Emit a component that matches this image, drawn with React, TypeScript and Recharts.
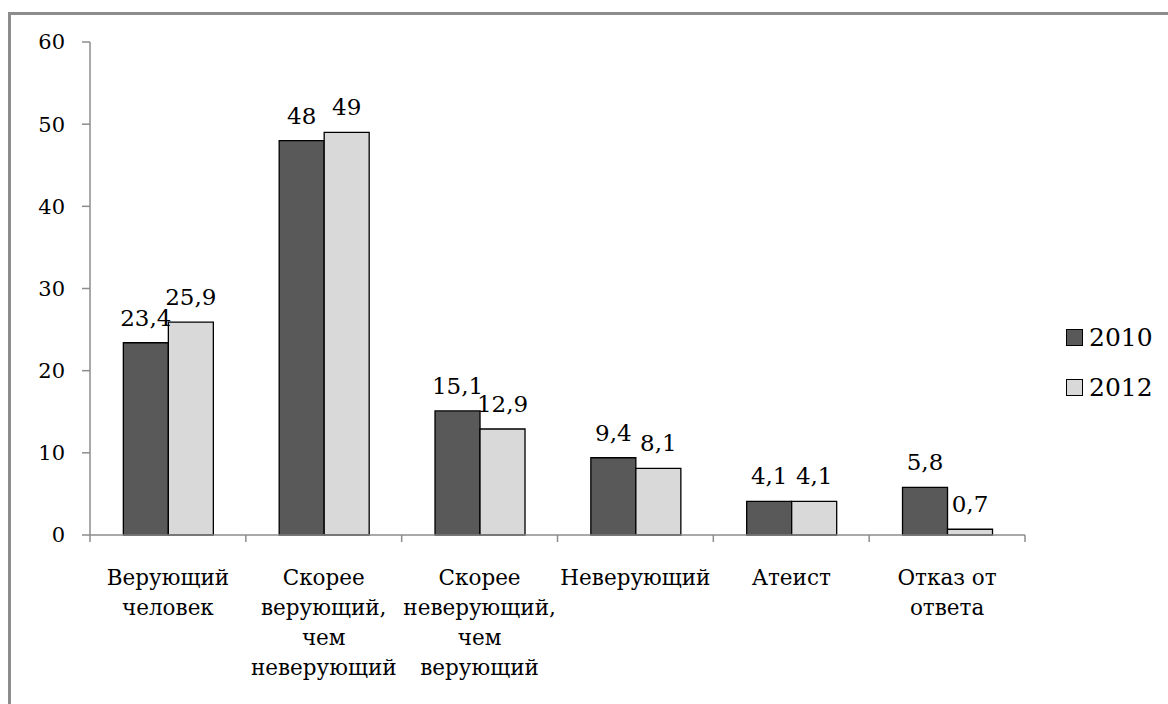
import { Bar, BarChart, LabelList, XAxis, YAxis } from 'recharts'

// Categories (line breaks as in the original axis labels)
const categories = [
  'Верующий\nчеловек',
  'Скорее\nверующий,\nчем\nневерующий',
  'Скорее\nневерующий,\nчем\nверующий',
  'Неверующий',
  'Атеист',
  'Отказ от\nответа',
]
const values2010 = [23.4, 48, 15.1, 9.4, 4.1, 5.8]
const values2012 = [25.9, 49, 12.9, 8.1, 4.1, 0.7]
const yTicks = [0, 10, 20, 30, 40, 50, 60]
const seriesNames = ['2010', '2012']
const seriesColors = ['#595959', '#d9d9d9']

const data = categories.map((name, i) => ({
  name,
  y2010: values2010[i],
  y2012: values2012[i],
}))

const FONT = '"DejaVu Serif", "Liberation Serif", serif'
const AXIS_GRAY = '#8c8c8c'
const BAND = (1025 - 90) / categories.length

const formatValue = (v: any) => String(v).replace('.', ',')

// Category label with tick marks at the band edges
const CategoryTick = (props: any) => {
  const { x, y, payload, index } = props
  const half = payload?.offset || BAND / 2
  const lines = String(payload.value).split('\n')
  return (
    <g>
      <line x1={x - half} y1={y} x2={x - half} y2={y + 7} stroke={AXIS_GRAY} strokeWidth={1.5} />
      {index === categories.length - 1 && (
        <line x1={x + half} y1={y} x2={x + half} y2={y + 7} stroke={AXIS_GRAY} strokeWidth={1.5} />
      )}
      {lines.map((line: string, i: number) => (
        <text key={i} x={x} y={y + 50 + i * 30} textAnchor="middle" fontSize={21.5} fontFamily={FONT} fill="#000">
          {line}
        </text>
      ))}
    </g>
  )
}

const LegendBox = () => (
  <div style={{ position: 'absolute', left: 1066, top: 312, fontFamily: FONT, fontSize: 25, color: '#000' }}>
    {seriesNames.map((name, i) => (
      <div key={name} style={{ display: 'flex', alignItems: 'center', height: 50 }}>
        <span
          style={{
            display: 'inline-block',
            width: 15,
            height: 15,
            background: seriesColors[i],
            border: '1.5px solid #000',
            marginRight: 6,
          }}
        />
        <span>{name}</span>
      </div>
    ))}
  </div>
)

export default function App() {
  return (
    <div style={{ position: 'absolute', left: 0, top: 0, width: 1168, height: 704, overflow: 'hidden', background: '#fff' }}>
      <div
        style={{
          position: 'absolute',
          left: 8,
          top: 12,
          width: 1300,
          height: 900,
          border: `3px solid ${AXIS_GRAY}`,
        }}
      />
      <div style={{ position: 'absolute', left: 0, top: 0 }}>
        <BarChart
          width={1168}
          height={704}
          data={data}
          margin={{ top: 42, right: 143, left: 40, bottom: 0 }}
          barCategoryGap="21.4%"
          barGap={0}
        >
          <XAxis
            dataKey="name"
            height={169}
            interval={0}
            tickLine={false}
            tickSize={0}
            tickMargin={0}
            axisLine={{ stroke: AXIS_GRAY, strokeWidth: 1.5 }}
            tick={<CategoryTick />}
          />
          <YAxis
            width={50}
            domain={[0, 60]}
            ticks={yTicks}
            interval={0}
            tickSize={8}
            tickMargin={17}
            axisLine={{ stroke: AXIS_GRAY, strokeWidth: 1.5 }}
            tickLine={{ stroke: AXIS_GRAY, strokeWidth: 1.5 }}
            tick={{ fill: '#000', fontSize: 21, fontFamily: FONT }}
          />
          <Bar dataKey="y2010" name={seriesNames[0]} fill={seriesColors[0]} stroke="#000" strokeWidth={1.3} isAnimationActive={false}>
            <LabelList dataKey="y2010" position="top" offset={17} formatter={formatValue} fontSize={23} fontFamily={FONT} fill="#000" />
          </Bar>
          <Bar dataKey="y2012" name={seriesNames[1]} fill={seriesColors[1]} stroke="#000" strokeWidth={1.3} isAnimationActive={false}>
            <LabelList dataKey="y2012" position="top" offset={17} formatter={formatValue} fontSize={23} fontFamily={FONT} fill="#000" />
          </Bar>
        </BarChart>
      </div>
      <LegendBox />
    </div>
  )
}
